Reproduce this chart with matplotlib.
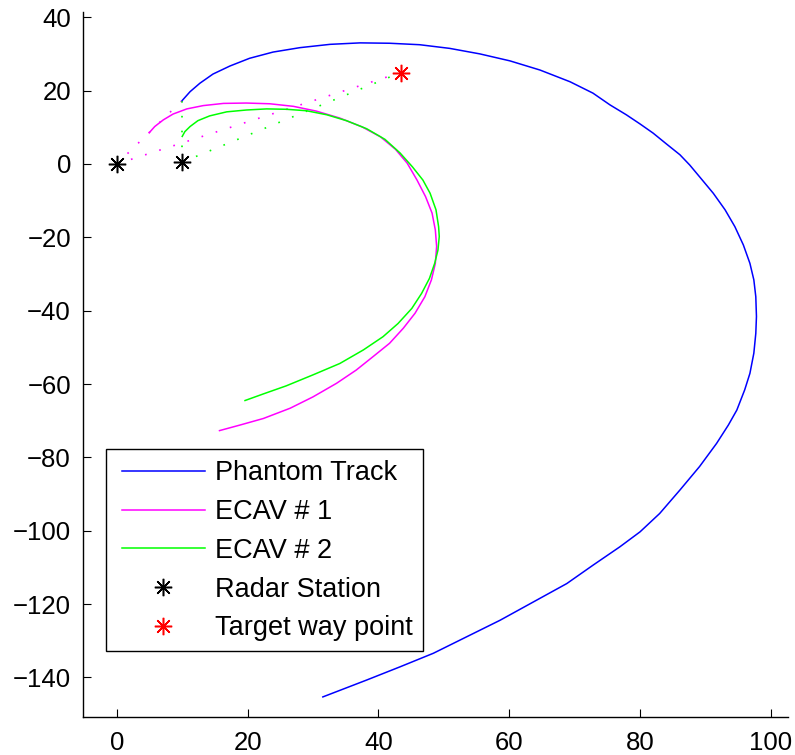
import matplotlib
matplotlib.use("Agg")
import matplotlib.pyplot as plt
from matplotlib.lines import Line2D
from matplotlib.patches import Rectangle

plt.rcParams['font.family'] = ['Liberation Sans', 'DejaVu Sans']

# Phantom track (blue)
phantom_x = [10.0, 11.2, 12.7, 14.7, 17.3, 20.3, 23.9, 28.0, 32.6, 37.2, 41.7, 46.3, 50.9,
             55.5, 60.1, 64.7, 69.3, 72.8, 75.4, 77.9, 80.0, 82.0, 84.0, 86.1, 87.6, 89.1,
             91.2, 93.0, 94.5, 95.8, 96.8, 97.4, 97.7, 97.8, 97.7, 97.4, 96.8, 96.0, 94.8,
             93.5, 91.7, 89.1, 86.1, 83.0, 80.0, 76.9, 72.8, 68.8, 63.7, 58.6, 53.5, 48.4,
             43.3, 38.2, 31.5]
phantom_y = [17.3, 19.7, 22.0, 24.5, 26.7, 28.8, 30.5, 31.7, 32.6, 33.0, 32.9, 32.5, 31.5,
             30.0, 28.1, 25.6, 22.4, 19.3, 16.1, 13.4, 10.9, 8.4, 5.5, 2.5, -0.3, -3.5,
             -8.0, -12.5, -17.1, -22.1, -27.1, -31.6, -36.2, -41.6, -46.2, -51.6, -57.1,
             -61.6, -67.1, -71.2, -76.2, -82.5, -88.9, -95.3, -100.3, -104.4, -109.4,
             -114.4, -119.4, -124.4, -128.9, -133.4, -137.1, -140.7, -145.3]

# ECAV #1 (magenta)
ecav1_x = [4.95, 5.8, 7.1, 8.6, 10.7, 13.2, 16.3, 19.8, 23.4, 27.0, 30.5, 34.1, 37.5, 40.3,
           42.6, 44.4, 45.9, 47.2, 48.2, 48.7, 48.9, 48.7, 48.1, 47.1, 45.6, 43.8, 41.7,
           39.2, 36.6, 33.6, 30.0, 26.5, 22.4, 18.8, 15.7]
ecav1_y = [8.5, 10.2, 12.0, 13.6, 15.0, 15.9, 16.5, 16.6, 16.4, 15.7, 14.4, 12.5, 10.1, 7.4,
           4.0, 0.2, -4.4, -8.9, -13.4, -18.0, -22.5, -27.1, -31.6, -36.2, -40.7, -44.8,
           -48.9, -52.5, -56.2, -59.8, -63.5, -66.6, -69.4, -71.2, -72.7]

# ECAV #2 (green)
ecav2_x = [10.0, 10.4, 11.2, 12.4, 14.2, 16.8, 19.8, 22.9, 25.9, 29.0, 32.1, 35.1, 38.2,
           41.0, 43.3, 45.2, 46.8, 47.9, 48.8, 49.2, 49.3, 49.1, 48.6, 47.8, 46.6, 45.1,
           43.0, 40.7, 37.7, 34.1, 30.0, 25.9, 22.4, 19.6]
ecav2_y = [7.5, 8.8, 10.2, 11.8, 13.1, 14.2, 14.7, 15.0, 14.9, 14.5, 13.4, 11.8, 9.6, 6.7,
           3.0, -0.8, -4.4, -8.0, -12.5, -17.1, -19.8, -23.5, -27.1, -31.2, -35.3, -39.4,
           -43.5, -47.1, -50.7, -54.4, -57.5, -60.5, -62.7, -64.5]

radar_x = [0.0, 10.0]
radar_y = [0.0, 0.5]
target_x = [43.4]
target_y = [24.9]

labels = ['Phantom Track', 'ECAV # 1', 'ECAV # 2', 'Radar Station', 'Target way point']
xticks = [0, 20, 40, 60, 80, 100]
yticks = [40, 20, 0, -20, -40, -60, -80, -100, -120, -140]

BLUE, MAG, GRN = '#0000ff', '#ff00ff', '#00ff00'

fig = plt.figure(figsize=(7.95, 7.55), dpi=100)
ax = fig.add_axes([0.105, 0.0507, 0.886, 0.9338])

dot = dict(linestyle=(0, (1, 7.9)), linewidth=1.2)
# line-of-sight dotted lines
ax.plot([radar_x[0], phantom_x[0]], [radar_y[0], phantom_y[0]], color=MAG, **dot)
ax.plot([radar_x[0], target_x[0]], [radar_y[0], target_y[0]], color=MAG, **dot)
ax.plot([radar_x[1], phantom_x[0]], [radar_y[1], phantom_y[0]], color=GRN, **dot)
ax.plot([radar_x[1], target_x[0]], [radar_y[1], target_y[0]], color=GRN, **dot)

lw = 1.1
ax.plot(phantom_x, phantom_y, color=BLUE, lw=lw, solid_joinstyle='round')
ax.plot(ecav1_x, ecav1_y, color=MAG, lw=lw, solid_joinstyle='round')
ax.plot(ecav2_x, ecav2_y, color=GRN, lw=lw, solid_joinstyle='round')
star = dict(linestyle='none', marker=(8, 2, 0), ms=12.5, mew=1.1)
ax.plot(radar_x, radar_y, color='black', **star)
ax.plot(target_x, target_y, color='red', **star)

ax.set_xlim(-5.1, 102.6)
ax.set_ylim(-150.7, 41.5)
ax.set_xticks(xticks)
ax.set_yticks(yticks)
ax.set_xticklabels([str(v).replace('-', '\u2212') for v in xticks])
ax.set_yticklabels([str(v).replace('-', '\u2212') for v in yticks])
ax.tick_params(direction='in', length=6, width=0.8, labelsize=18.5)
ax.tick_params(axis='y', pad=9)
ax.tick_params(axis='x', pad=10)
for s in ['top', 'right']:
    ax.spines[s].set_visible(False)
for s in ['left', 'bottom']:
    ax.spines[s].set_linewidth(1.0)

# legend frame
ax.add_patch(Rectangle((0.0314, 0.0936), 0.45, 0.2861, transform=ax.transAxes,
                       facecolor='white', edgecolor='black', lw=1.0, zorder=4))

handles = [
    Line2D([], [], color=BLUE, lw=lw),
    Line2D([], [], color=MAG, lw=lw),
    Line2D([], [], color=GRN, lw=lw),
    Line2D([], [], color='black', **star),
    Line2D([], [], color='red', **star),
]
leg = ax.legend(handles, labels, loc='upper left', bbox_to_anchor=(0.0541, 0.3635),
                borderaxespad=0, borderpad=0, fontsize=19.5, frameon=False,
                handlelength=3.07, handletextpad=0.37, labelspacing=0.47)
leg.set_zorder(5)

fig.savefig('out.png', dpi=100)
